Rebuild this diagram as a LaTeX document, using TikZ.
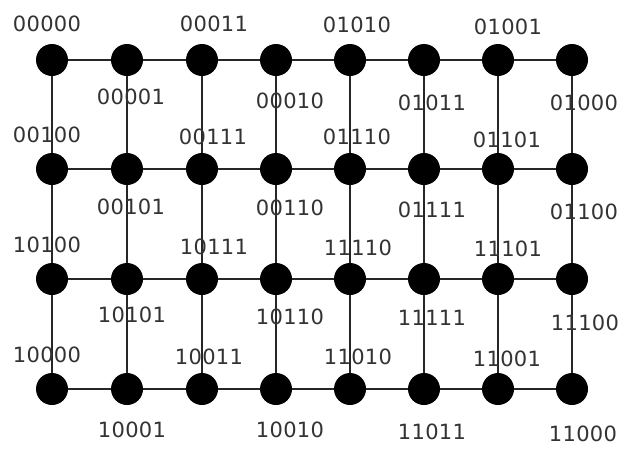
\documentclass[tikz,border=0pt]{standalone}
\usepackage{fontspec}
\setmainfont{DejaVu Sans}[LetterSpace=1.5]
\begin{document}
\begin{tikzpicture}[x=1pt,y=-1pt,
  vtx/.style={circle,fill=black,draw=none,minimum size=32pt,inner sep=0pt},
  lbl/.style={font=\fontsize{21}{25}\selectfont,text=black!80,inner sep=0pt,anchor=center},
  edge/.style={draw=black!85,line width=1.1pt}]
\useasboundingbox[fill=white] (0,0) rectangle (623,448);
% vertices
\foreach \c/\x in {1/52,2/127,3/202,4/276,5/350,6/424,7/498,8/572}{
  \foreach \r/\y in {1/60,2/169,3/279,4/389}{
    \node[vtx] (v\r\c) at (\x,\y) {};
  }
}
% edges
\foreach \r in {1,2,3,4}{
  \foreach \c/\d in {1/2,2/3,3/4,4/5,5/6,6/7,7/8}{
    \path[edge] (v\r\c) -- (v\r\d);
  }
}
\foreach \c in {1,...,8}{
  \foreach \r/\s in {1/2,2/3,3/4}{
    \path[edge] (v\r\c) -- (v\s\c);
  }
}
% labels row 1
\node[lbl] (l00000) at (47,24) {00000};
\node[lbl] (l00011) at (214,24) {00011};
\node[lbl] (l01010) at (357,25) {01010};
\node[lbl] (l01001) at (508,27) {01001};
\node[lbl] (l00001) at (131,97) {00001};
\node[lbl] (l00010) at (290,101) {00010};
\node[lbl] (l01011) at (432,103) {01011};
\node[lbl] (l01000) at (584,103) {01000};
% row 2
\node[lbl] (l00100) at (47,135) {00100};
\node[lbl] (l00111) at (213,137) {00111};
\node[lbl] (l01110) at (357,137) {01110};
\node[lbl] (l01101) at (507,140) {01101};
\node[lbl] (l00101) at (131,207) {00101};
\node[lbl] (l00110) at (290,208) {00110};
\node[lbl] (l01111) at (432,210) {01111};
\node[lbl] (l01100) at (584,212) {01100};
% row 3
\node[lbl] (l10100) at (47,245) {10100};
\node[lbl] (l10111) at (214,247) {10111};
\node[lbl] (l11110) at (358,248) {11110};
\node[lbl] (l11101) at (508,249) {11101};
\node[lbl] (l10101) at (132,315) {10101};
\node[lbl] (l10110) at (290,317) {10110};
\node[lbl] (l11111) at (432,318) {11111};
\node[lbl] (l11100) at (585,323) {11100};
% row 4
\node[lbl] (l10000) at (47,355) {10000};
\node[lbl] (l10011) at (209,357) {10011};
\node[lbl] (l11010) at (358,357) {11010};
\node[lbl] (l11001) at (507,359) {11001};
\node[lbl] (l10001) at (132,430) {10001};
\node[lbl] (l10010) at (290,430) {10010};
\node[lbl] (l11011) at (432,432) {11011};
\node[lbl] (l11000) at (583,434) {11000};
\end{tikzpicture}
\end{document}
